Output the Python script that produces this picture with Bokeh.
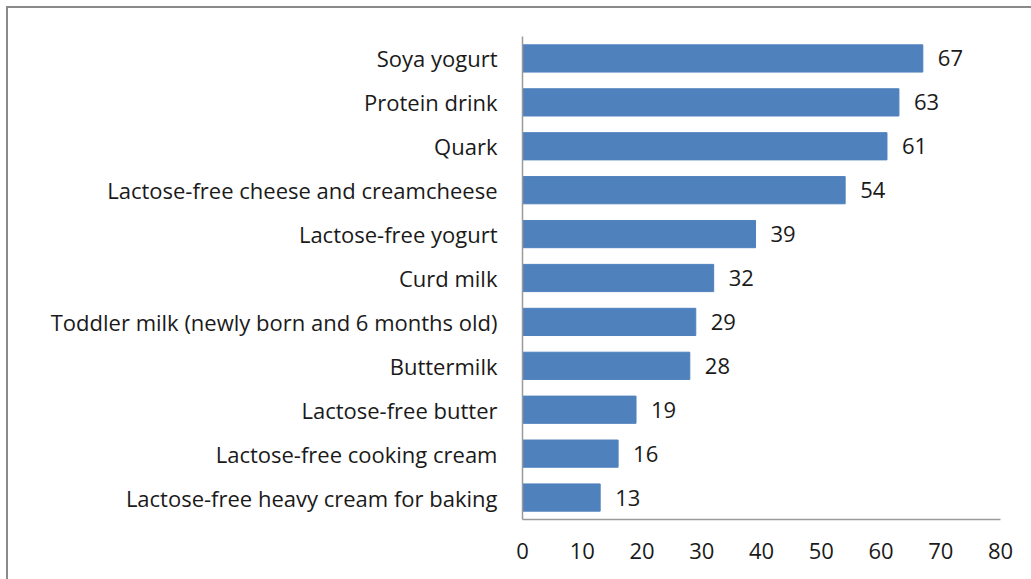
from bokeh.plotting import figure
from bokeh.models import ColumnDataSource, FactorRange, Range1d, FixedTicker, LabelSet
from bokeh.core.properties import value
from bokeh.embed import file_html
from bokeh.resources import INLINE

categories = ["Soya yogurt", "Protein drink", "Quark",
              "Lactose-free cheese and creamcheese", "Lactose-free yogurt",
              "Curd milk", "Toddler milk (newly born and 6 months old)",
              "Buttermilk", "Lactose-free butter", "Lactose-free cooking cream",
              "Lactose-free heavy cream for baking"]
values = [67, 63, 61, 54, 39, 32, 29, 28, 19, 16, 13]
x_ticks = [0, 10, 20, 30, 40, 50, 60, 70, 80]

FONT = "Open Sans"
FS = "22px"
src = ColumnDataSource(dict(cat=categories, val=values, lab=[str(v) for v in values]))

p = figure(width=1025, height=573, output_backend="svg", toolbar_location=None,
           y_range=FactorRange(factors=list(reversed(categories))),
           x_range=Range1d(0, 80),
           min_border_left=514, min_border_right=33, min_border_top=28, min_border_bottom=62)
p.margin = (6, 0, 0, 6)
p.styles = {"border-top": "2px solid #8a8a8a", "border-left": "2px solid #8a8a8a"}
p.outline_line_color = None
p.background_fill_color = "white"
p.border_fill_color = "white"

p.hbar(y="cat", right="val", left=0, height=0.62, source=src,
       fill_color="#4F81BD", line_color="#4F81BD")

p.add_layout(LabelSet(x="val", y="cat", text="lab", source=src, x_offset=15,
                      text_align="left", text_baseline="middle",
                      text_font=value(FONT), text_font_size=FS, text_color="#1a1a1a"))

p.xgrid.visible = False
p.ygrid.visible = False

for ax in (p.xaxis[0], p.yaxis[0]):
    ax.axis_line_color = "#9a9a9a"
    ax.axis_line_width = 1.5
    ax.major_tick_line_color = None
    ax.minor_tick_line_color = None
    ax.major_label_text_font = FONT
    ax.major_label_text_font_size = FS
    ax.major_label_text_color = "#1a1a1a"

p.xaxis.ticker = FixedTicker(ticks=x_ticks)
p.xaxis.major_label_standoff = 17
p.yaxis.major_label_standoff = 19

open("out.html", "w").write(file_html(p, INLINE))
